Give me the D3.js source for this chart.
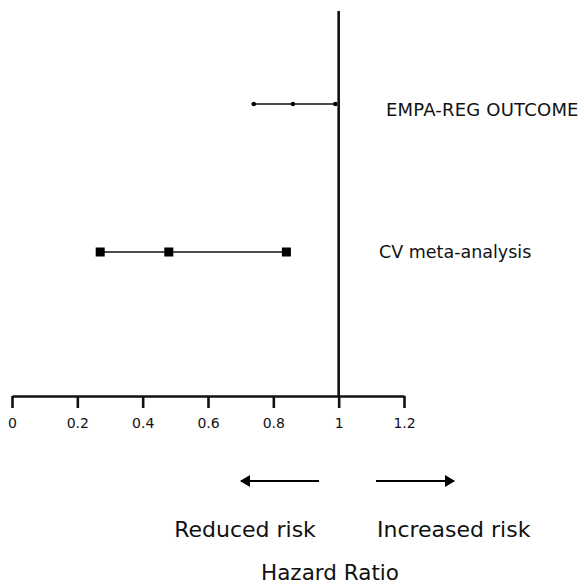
<!DOCTYPE html>
<html><head><meta charset="utf-8">
<script src="https://cdn.jsdelivr.net/npm/d3@7"></script>
<style>body{margin:0;background:#fff}svg{display:block}text{font-family:"DejaVu Sans",sans-serif;fill:#111}</style>
</head><body><svg id="c" width="584" height="586"></svg>
<script>
const studies = ["EMPA-REG OUTCOME", "CV meta-analysis"];
const lower = [0.74, 0.27];
const estimate = [0.86, 0.48];
const upper = [0.99, 0.84];
const markerType = ["dot", "square"];
const tickValues = [0, 0.2, 0.4, 0.6, 0.8, 1, 1.2];
const tickLabels = ["0", "0.2", "0.4", "0.6", "0.8", "1", "1.2"];
const leftLabel = "Reduced risk", rightLabel = "Increased risk", axisTitle = "Hazard Ratio";

const svg = d3.select("#c");
const x = d3.scaleLinear().domain([0, 1.2]).range([12, 404]);
const y = d3.scalePoint().domain(studies).range([104, 252]);
const axisY = 396;

// reference line at HR = 1
svg.append("line").attr("x1", x(1)).attr("x2", x(1)).attr("y1", 11).attr("y2", axisY)
  .attr("stroke", "#111").attr("stroke-width", 2.6);

// axis
const ax = svg.append("g").attr("transform", `translate(0,${axisY})`)
  .call(d3.axisBottom(x).tickValues(tickValues).tickFormat((d, i) => tickLabels[i])
    .tickSize(12).tickSizeOuter(0).tickPadding(10));
ax.select(".domain").attr("stroke", "#111").attr("stroke-width", 2.6);
ax.selectAll(".tick line").attr("stroke", "#111").attr("stroke-width", 2.6);
ax.selectAll(".tick text").attr("font-size", 14).attr("font-family", "DejaVu Sans").attr("fill", "#111");

// rows
studies.forEach((s, i) => {
  const g = svg.append("g");
  const cy = y(s);
  g.append("line").attr("x1", x(lower[i])).attr("x2", x(upper[i])).attr("y1", cy).attr("y2", cy)
    .attr("stroke", "#111").attr("stroke-width", markerType[i] === "square" ? 1.6 : 1.3);
  [lower[i], estimate[i], upper[i]].forEach(v => {
    if (markerType[i] === "square") {
      g.append("rect").attr("x", x(v) - 4.5).attr("y", cy - 4.5).attr("width", 9).attr("height", 9).attr("fill", "#000");
    } else {
      g.append("circle").attr("cx", x(v)).attr("cy", cy).attr("r", 2.3).attr("fill", "#000");
    }
  });
});
svg.append("text").attr("x", 386).attr("y", y(studies[0]) + 12).attr("font-size", 18)
  .attr("letter-spacing", 0.2).text(studies[0]);
svg.append("text").attr("x", 379).attr("y", y(studies[1]) + 6).attr("font-size", 17.5).text(studies[1]);

// arrows
const defs = svg.append("defs");
defs.append("marker").attr("id", "ah").attr("viewBox", "0 0 10 12").attr("refX", 9).attr("refY", 6)
  .attr("markerWidth", 10).attr("markerHeight", 12).attr("markerUnits", "userSpaceOnUse").attr("orient", "auto")
  .append("path").attr("d", "M0,0 L10,6 L0,12 Z").attr("fill", "#000");
svg.append("line").attr("x1", 319).attr("x2", 241).attr("y1", 481).attr("y2", 481)
  .attr("stroke", "#000").attr("stroke-width", 2).attr("marker-end", "url(#ah)");
svg.append("line").attr("x1", 376).attr("x2", 454).attr("y1", 481).attr("y2", 481)
  .attr("stroke", "#000").attr("stroke-width", 2).attr("marker-end", "url(#ah)");

svg.append("text").attr("x", 245).attr("y", 537).attr("font-size", 22).attr("text-anchor", "middle").text(leftLabel);
svg.append("text").attr("x", 377).attr("y", 537).attr("font-size", 22).text(rightLabel);
svg.append("text").attr("x", 330).attr("y", 580).attr("font-size", 21.5).attr("text-anchor", "middle").text(axisTitle);
</script></body></html>
